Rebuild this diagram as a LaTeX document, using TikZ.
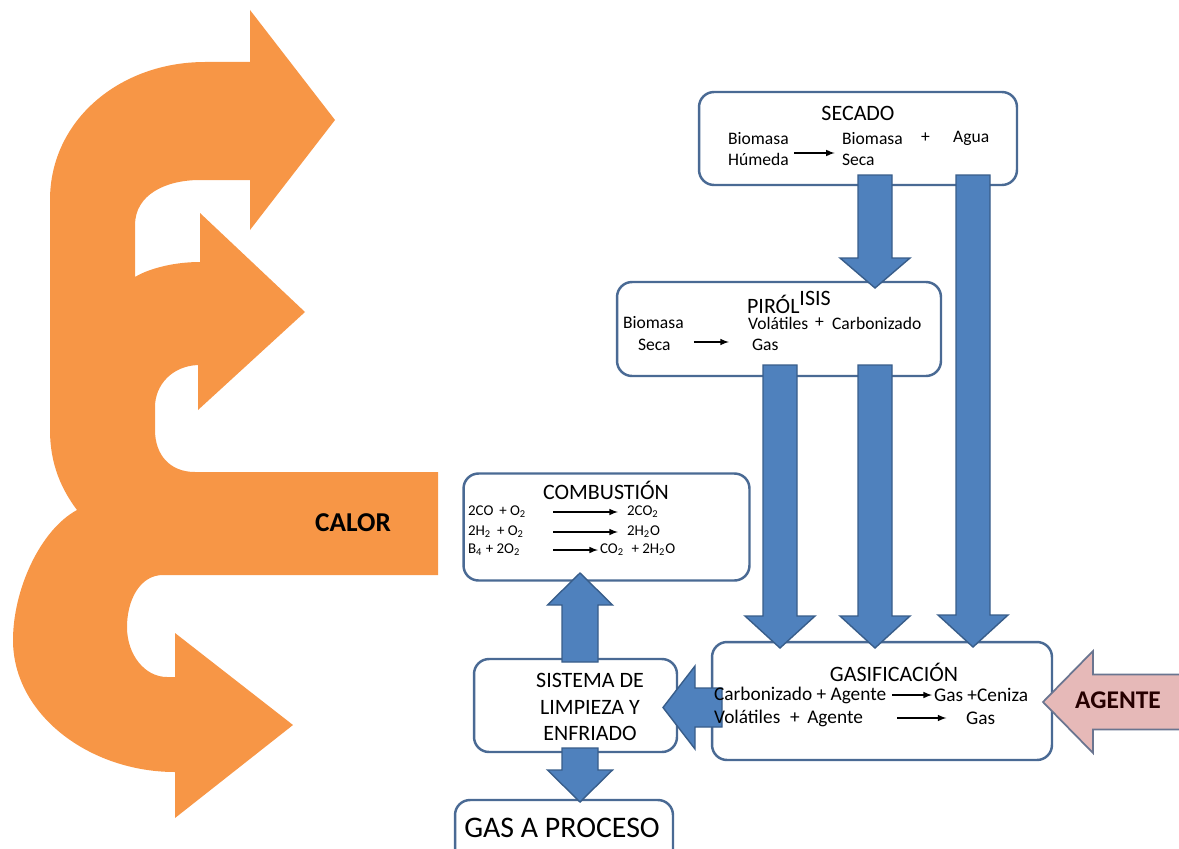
\documentclass[tikz,border=0pt]{standalone}
\usepackage{fontspec}
\setmainfont{Carlito}
\usetikzlibrary{shapes, arrows, calc}

\definecolor{calor}{HTML}{F79646}
\definecolor{flujo}{HTML}{4F81BD}
\definecolor{flujoborde}{HTML}{385D8A}
\definecolor{caja}{HTML}{4A6A94}
\definecolor{agente}{HTML}{E6B9B8}
\definecolor{agenteborde}{HTML}{6A7590}

% block arrow: [style]{from}{to}{shaft half width}{head half width}{head length}
\newcommand{\flecha}[6][flow]{%
  \coordinate (fb) at ($(#3)!#6!(#2)$);
  \filldraw[#1] ($(#2)!#4!90:(#3)$) -- ($(fb)!#4!90:(#3)$) -- ($(fb)!#5!90:(#3)$) -- (#3)
    -- ($(fb)!#5!-90:(#3)$) -- ($(fb)!#4!-90:(#3)$) -- ($(#2)!#4!-90:(#3)$) -- cycle;
}

\begin{document}
\begin{tikzpicture}[x=0.02cm, y=-0.02cm,
    caja/.style={rectangle, rounded corners=0.3cm, draw=caja, line width=1.4pt, fill=white},
    flow/.style={fill=flujo, draw=flujoborde, line width=0.8pt},
    entra/.style={fill=agente, draw=agenteborde, line width=1pt},
    titulo/.style={font=\fontsize{12.5}{15}\selectfont, inner sep=1pt},
    txt/.style={font=\fontsize{10}{12.5}\selectfont, inner sep=1pt, anchor=west},
    txtc/.style={font=\fontsize{8.5}{10}\selectfont, inner sep=1pt, anchor=west},
    txtg/.style={font=\fontsize{11}{13}\selectfont, inner sep=1pt, anchor=west},
    rxn/.style={-latex, line width=0.7pt}]
    \clip (0,0) rectangle (1179,848);
    % calor
    \fill[calor] (250,10) -- (335,120) -- (250,230) -- (250,180) -- (200,180)
        .. controls (165,180) and (135,195) .. (135,225) -- (135,277)
        .. controls (150,268) and (175,262) .. (200,262) -- (200,213) -- (305,312) -- (198,410) -- (198,365)
        .. controls (172,366) and (155,385) .. (155,407) -- (155,430)
        .. controls (155,455) and (170,472) .. (195,472) -- (438,472) -- (438,575) -- (163,575)
        .. controls (140,575) and (127,600) .. (127,627)
        .. controls (127,655) and (145,677) .. (167,677) -- (175,677) -- (175,633) -- (293,725) -- (175,818) -- (175,772)
        .. controls (90,772) and (13,715) .. (13,640)
        .. controls (13,590) and (40,530) .. (77,510)
        .. controls (62,490) and (50,465) .. (50,430) -- (50,200)
        .. controls (50,120) and (120,62) .. (205,62) -- (250,62) -- cycle;
    \node[font=\fontsize{15.5}{18}\selectfont\bfseries, text=black] (calor) at (353,523) {CALOR};
    % cajas
    \node[caja, minimum width=6.36cm, minimum height=1.86cm] (sec) at (858,138.5) {};
    \node[caja, minimum width=6.48cm, minimum height=1.88cm] (pir) at (779,329) {};
    \node[caja, minimum width=5.72cm, minimum height=2.14cm] (com) at (606.5,527) {};
    \node[caja, minimum width=6.8cm, minimum height=2.36cm] (gas) at (882,701) {};
    \node[caja, minimum width=4.06cm, minimum height=1.86cm] (sis) at (575.5,705.5) {};
    \node[caja, minimum width=4.36cm, minimum height=1.4cm] (pro) at (564,835) {};
    % flechas
    \coordinate (s1) at (875,175); \coordinate (e1) at (875,288);
    \coordinate (s2) at (973,175); \coordinate (e2) at (973,647);
    \coordinate (s3) at (780,365); \coordinate (e3) at (780,648);
    \coordinate (s4) at (875,365); \coordinate (e4) at (875,648);
    \coordinate (s5) at (722,707.5); \coordinate (e5) at (663,707.5);
    \coordinate (s6) at (580,662); \coordinate (e6) at (580,573);
    \coordinate (s7) at (580,748); \coordinate (e7) at (580,802);
    \coordinate (s8) at (1200,702); \coordinate (e8) at (1043,702);
    \flecha{s1}{e1}{0.34cm}{0.7cm}{0.6cm}
    \flecha{s2}{e2}{0.34cm}{0.7cm}{0.64cm}
    \flecha{s3}{e3}{0.34cm}{0.7cm}{0.64cm}
    \flecha{s4}{e4}{0.34cm}{0.7cm}{0.64cm}
    \flecha{s5}{e5}{0.39cm}{0.83cm}{0.64cm}
    \flecha{s6}{e6}{0.36cm}{0.65cm}{0.64cm}
    \flecha{s7}{e7}{0.36cm}{0.65cm}{0.64cm}
    \flecha[entra]{s8}{e8}{0.55cm}{1.02cm}{1cm}
    \node[font=\fontsize{14.5}{17}\selectfont\bfseries, text=black!85!red] (agt) at (1118,700) {AGENTE};
    % secado
    \node[titulo] (sec-t) at (858,113) {SECADO};
    \node[txt, align=left] (sec-r) at (726,149) {Biomasa\\Húmeda};
    \node[txt, align=left] (sec-p) at (840,149) {Biomasa\\Seca};
    \node[txt] (sec-mas) at (919,138) {+};
    \node[txt] (sec-agua) at (951,138) {Agua};
    \draw[rxn, shorten <=2pt, shorten >=3pt] ([yshift=-0.08cm]sec-r.east) -- ([yshift=-0.08cm]sec-p.west);
    % pirolisis
    \node[titulo, anchor=base west] (pir-t) at (745,313) {PIRÓL\raisebox{4pt}{ISIS}};
    \node[txt] (pir-r1) at (621,323) {Biomasa};
    \node[txt] (pir-r2) at (636,345) {Seca};
    \node[txt] (pir-p1) at (746,323) {Volátiles};
    \node[txt] (pir-p2) at (750,345) {Gas};
    \node[txt] (pir-mas) at (813,323) {+};
    \node[txt] (pir-carb) at (830,323) {Carbonizado};
    \draw[rxn, shorten <=12pt, shorten >=12pt] ([yshift=0.06cm]pir-r2.east) -- ([yshift=0.06cm]pir-p2.west);
    % combustion
    \node[titulo] (com-t) at (606,490) {COMBUSTIÓN};
    \node[txtc] (com-r1) at (466,512) {2CO \,+ O\textsubscript{2}};
    \node[txtc] (com-p1) at (625,512) {2CO\textsubscript{2}};
    \node[txtc] (com-r2) at (466,532) {2H\textsubscript{2} \,+ O\textsubscript{2}};
    \node[txtc] (com-p2) at (625,532) {2H\textsubscript{2}O};
    \node[txtc] (com-r3) at (466,550) {B\textsubscript{4} + 2O\textsubscript{2}};
    \node[txtc] (com-p3) at (598,550) {CO\textsubscript{2} \;+ 2H\textsubscript{2}O};
    \coordinate (com-a1) at (553,512);
    \coordinate (com-a2) at (553,532);
    \coordinate (com-a3) at (553,550);
    \draw[rxn, shorten >=4pt] (com-a1) -- (com-p1.west);
    \draw[rxn, shorten >=4pt] (com-a2) -- (com-p2.west);
    \draw[rxn] (com-a3) -- (com-p3.west);
    % gasificacion
    \node[titulo] (gas-t) at (894,672) {GASIFICACIÓN};
    \node[txtg] (gas-r1) at (712,695) {Carbonizado + Agente};
    \node[txtg] (gas-p1) at (932,695) {Gas +Ceniza};
    \node[txtg] (gas-r2) at (712,718) {Volátiles \;+ \,Agente};
    \node[txtg] (gas-p2) at (964,718) {Gas};
    \coordinate (gas-a2) at (897,718);
    \draw[rxn, shorten <=2pt] (gas-r1.east) -- (gas-p1.west);
    \draw[rxn, shorten >=10pt] (gas-a2) -- (gas-p2.west);
    % limpieza y gas a proceso
    \node[titulo, align=center, font=\fontsize{12.5}{15}\selectfont] (sis-t) at (590,707) {SISTEMA DE\\LIMPIEZA Y\\ENFRIADO};
    \node[font=\fontsize{17}{20}\selectfont, inner sep=1pt] (pro-t) at (562,828) {GAS A PROCESO};
\end{tikzpicture}
\end{document}
